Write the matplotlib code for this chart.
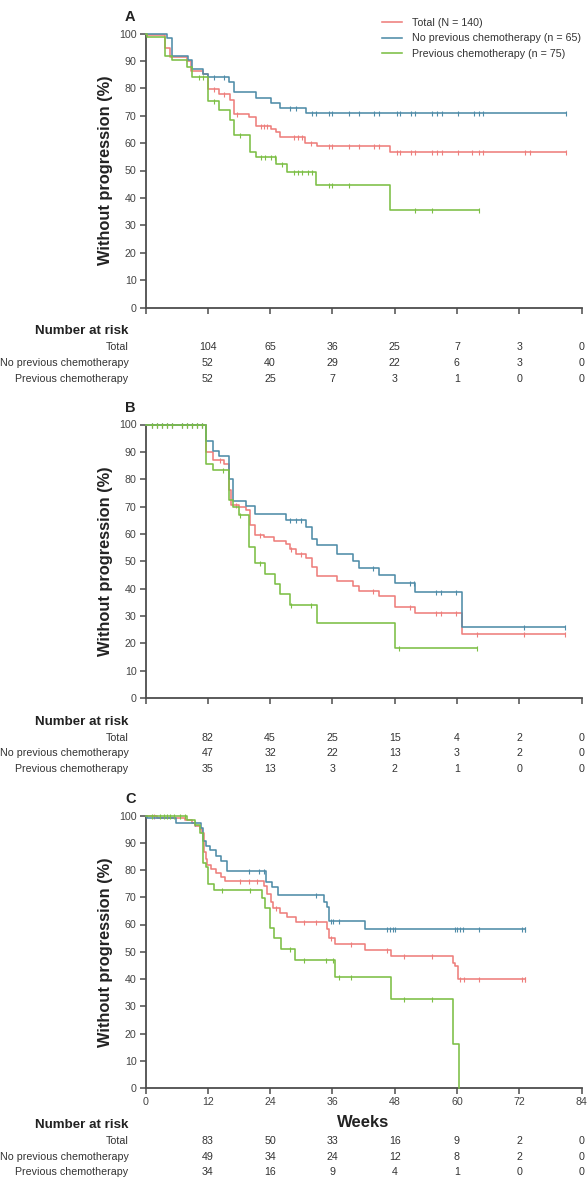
import matplotlib
matplotlib.use("Agg")
import matplotlib.pyplot as plt
import numpy as np

plt.rcParams['font.family'] = ['Liberation Sans', 'DejaVu Sans']

# ---- data (weeks, % without progression) ----
groups = ["Total", "No previous chemotherapy", "Previous chemotherapy"]
legend_labels = ["Total (N = 140)", "No previous chemotherapy (n = 65)",
                 "Previous chemotherapy (n = 75)"]
risk_weeks = [12, 24, 36, 48, 60, 72, 84]

# panel A
a_total_t = [0.3, 3.85, 4.8, 8.0, 8.8, 11.1, 12.0, 14.1, 16.2, 17.0, 19.9, 21.2, 24.2, 25.2, 26.0, 30.8, 33.1, 47.1]
a_total_s = [99.3, 94.7, 91.4, 90.0, 86.3, 85.1, 79.8, 78.0, 75.9, 70.6, 69.4, 66.1, 65.1, 63.9, 62.3, 60.2, 59.0, 56.8]
a_total_c = [13.2, 15.2, 17.7, 22.2, 22.8, 23.4, 28.6, 29.4, 30.2, 31.9, 35.3, 35.9, 39.2, 41.1, 44.1, 45.0,
             48.4, 49.1, 51.2, 52.0, 55.2, 56.2, 57.2, 60.2, 63.0, 64.2, 65.1, 73.1, 74.1, 81.1]
a_nochemo_t = [4.2, 5.1, 8.2, 9.0, 11.1, 12.0, 16.1, 17.0, 21.2, 24.2, 26.0, 31.0]
a_nochemo_s = [98.2, 91.7, 90.5, 87.1, 85.3, 84.1, 82.3, 78.8, 76.4, 74.7, 72.8, 70.9]
a_nochemo_c = [13.2, 15.2, 27.9, 29.0, 32.1, 32.9, 35.3, 35.9, 39.2, 41.1, 44.1, 45.0, 48.4, 49.1, 51.2, 52.0,
               55.2, 56.2, 57.2, 60.2, 63.3, 64.2, 65.1, 81.1]
a_chemo_t = [0.3, 3.85, 5.1, 8.0, 9.0, 12.0, 14.1, 16.2, 17.0, 20.1, 21.2, 25.2, 27.3, 32.9, 47.1]
a_chemo_s = [98.8, 91.7, 90.2, 87.8, 84.3, 75.5, 72.1, 68.4, 62.9, 56.9, 55.1, 52.3, 49.4, 44.7, 35.5]
a_chemo_c = [10.3, 11.1, 13.2, 18.3, 22.2, 23.1, 24.1, 25.0, 26.3, 28.6, 29.4, 30.2, 31.3, 32.1, 35.3, 35.9,
             39.2, 52.0, 55.2, 64.2]
a_risk_total = [104, 65, 36, 25, 7, 3, 0]
a_risk_nochemo = [52, 40, 29, 22, 6, 3, 0]
a_risk_chemo = [52, 25, 7, 3, 1, 0, 0]

# panel B
b_early_c = [1.3, 2.2, 3.2, 4.2, 5.1, 7.1, 8.0, 9.0, 10.0, 10.9]
b_total_t = [11.75, 13.0, 15.1, 16.1, 16.5, 18.0, 19.3, 20.1, 21.1, 22.8, 24.7, 27.0, 27.9, 28.9, 31.0, 32.1,
             33.1, 36.9, 40.0, 41.1, 45.0, 48.0, 52.0, 60.9]
b_total_s = [89.9, 86.9, 85.4, 76.1, 70.6, 69.7, 68.7, 63.2, 59.6, 58.7, 57.4, 56.2, 54.4, 52.8, 51.3, 48.0,
             44.5, 42.7, 40.9, 39.0, 37.2, 33.1, 31.0, 23.3]
b_total_c = b_early_c + [14.3, 17.5, 22.0, 28.0, 29.9, 43.9, 50.9, 56.0, 57.0, 59.9, 63.9, 72.9, 80.8]
b_nochemo_t = [11.75, 13.0, 14.1, 16.1, 16.8, 19.3, 21.1, 27.0, 31.0, 32.1, 33.1, 36.9, 40.0, 41.1, 45.0,
               48.0, 52.0, 60.9]
b_nochemo_s = [93.9, 90.3, 88.3, 79.9, 71.9, 70.3, 67.2, 65.2, 62.6, 58.0, 55.9, 52.8, 50.1, 47.6, 44.9,
               42.1, 38.8, 26.1]
b_nochemo_c = b_early_c + [27.9, 29.0, 30.0, 43.9, 50.9, 51.8, 56.0, 57.0, 59.9, 72.9, 80.8]
b_chemo_t = [11.75, 13.0, 16.1, 16.8, 18.0, 19.9, 21.1, 23.1, 25.0, 26.0, 27.9, 33.0, 48.0]
b_chemo_s = [85.6, 83.4, 72.4, 69.7, 66.9, 55.3, 49.4, 45.5, 41.8, 38.0, 33.9, 27.4, 18.2]
b_chemo_c = b_early_c + [15.0, 18.3, 22.0, 28.1, 31.9, 48.9, 63.9]
b_risk_total = [82, 45, 25, 15, 4, 2, 0]
b_risk_nochemo = [47, 32, 22, 13, 3, 2, 0]
b_risk_chemo = [35, 13, 3, 2, 1, 0, 0]

# panel C
c_total_t = [2.2, 7.7, 9.0, 9.6, 10.5, 10.9, 11.2, 11.6, 11.9, 12.7, 13.5, 14.5, 15.4, 22.8, 23.4, 24.1,
             24.6, 26.0, 27.3, 28.9, 34.9, 35.4, 36.5, 42.2, 47.3, 59.2, 59.7, 60.2]
c_total_s = [99.0, 98.4, 97.2, 96.2, 94.9, 93.4, 86.6, 84.2, 81.9, 80.4, 78.8, 77.6, 76.1, 74.3, 71.2, 68.1,
             66.2, 64.4, 62.9, 60.9, 58.2, 55.1, 53.0, 50.7, 48.3, 45.8, 44.9, 40.0]
c_total_c = [1.6, 18.3, 19.9, 21.5, 25.2, 30.6, 32.8, 35.8, 39.5, 46.6, 49.8, 55.2, 60.6, 61.3, 64.2, 72.6,
             73.1, 73.2]
c_nochemo_t = [0.3, 5.8, 10.6, 11.1, 11.75, 12.5, 13.5, 14.5, 15.7, 23.25, 24.4, 25.5, 34.4, 34.9, 35.4, 42.2]
c_nochemo_s = [98.9, 97.3, 95.5, 90.6, 88.7, 87.3, 85.0, 83.3, 79.8, 75.5, 73.6, 70.9, 68.4, 66.5, 61.3, 58.4]
c_nochemo_c = [9.6, 19.9, 21.8, 22.8, 32.8, 35.8, 36.2, 37.2, 46.6, 47.1, 47.6, 48.1, 59.6, 60.0, 60.6,
               61.2, 64.2, 72.6, 73.1, 73.2]
c_chemo_t = [8.0, 9.6, 10.5, 11.1, 11.6, 12.0, 13.2, 22.5, 23.1, 24.0, 24.7, 26.1, 28.8, 36.6, 47.3, 59.2, 60.4]
c_chemo_s = [98.4, 96.5, 93.7, 82.5, 81.1, 74.9, 72.8, 69.9, 66.2, 58.8, 55.1, 51.0, 46.8, 40.8, 32.5, 16.1, 0.0]
c_chemo_c = [1.3, 2.8, 3.5, 4.2, 4.8, 5.5, 6.7, 7.7, 14.8, 20.1, 27.8, 30.6, 34.7, 36.2, 37.2, 39.5, 49.8, 55.2]
c_risk_total = [83, 50, 33, 16, 9, 2, 0]
c_risk_nochemo = [49, 34, 24, 12, 8, 2, 0]
c_risk_chemo = [34, 16, 9, 4, 1, 0, 0]

colors = ['#EE7E7C', '#4F8CA8', '#7CBF45']
panels = [
    ("A", [(a_total_t, a_total_s, a_total_c), (a_nochemo_t, a_nochemo_s, a_nochemo_c),
           (a_chemo_t, a_chemo_s, a_chemo_c)], [a_risk_total, a_risk_nochemo, a_risk_chemo]),
    ("B", [(b_total_t, b_total_s, b_total_c), (b_nochemo_t, b_nochemo_s, b_nochemo_c),
           (b_chemo_t, b_chemo_s, b_chemo_c)], [b_risk_total, b_risk_nochemo, b_risk_chemo]),
    ("C", [(c_total_t, c_total_s, c_total_c), (c_nochemo_t, c_nochemo_s, c_nochemo_c),
           (c_chemo_t, c_chemo_s, c_chemo_c)], [c_risk_total, c_risk_nochemo, c_risk_chemo]),
]

W, H = 588, 1179
fig = plt.figure(figsize=(W / 100, H / 100), dpi=100)

# axes boxes in pixels: (top of y=100, y=0)
boxes = [(33.5, 307.5), (424.5, 698), (815.5, 1088)]
x0_px, x1_px = 145.5, 581.5
grey = '#4d4d4d'
txt = '#333333'
pt = 0.72  # points per pixel at 100 dpi

for (letter, curves, risks), (top, bot) in zip(panels, boxes):
    ax = fig.add_axes([x0_px / W, 1 - bot / H, (x1_px - x0_px) / W, (bot - top) / H])
    order = [2, 0, 1]
    for i in order:
        t, s, c = curves[i]
        end = max(max(c), t[-1])
        tt = np.r_[0, t, end]
        ss = np.r_[100, s, s[-1]]
        ax.step(tt, ss, where='post', color=colors[i], lw=1.15, clip_on=False,
                label=legend_labels[i], zorder=3 + i)
        cy = np.r_[100, s][np.searchsorted(t, c, side='right')]
        ax.plot(c, cy, ls='none', marker='|', ms=3.6, mew=0.8, color=colors[i],
                clip_on=False, zorder=3 + i)

    ax.set_xlim(0, 84)
    ax.set_ylim(0, 100)
    ax.set_xticks(np.arange(0, 85, 12))
    ax.set_yticks(np.arange(0, 101, 10))
    for sp in ['top', 'right']:
        ax.spines[sp].set_visible(False)
    for sp in ['left', 'bottom']:
        ax.spines[sp].set_color(grey)
        ax.spines[sp].set_linewidth(1.3)
    ax.tick_params(colors=grey, width=1.1, length=4.5, labelsize=7.7, labelcolor='#444444', pad=2)
    ax.set_ylabel("Without progression (%)", fontsize=11.8, fontweight='bold', color='#222222')
    ax.yaxis.set_label_coords(-0.075, 0.5)
    ax.text(-0.035, 1.06, letter, transform=ax.transAxes, fontsize=10.5, fontweight='bold',
            ha='center', va='center', color='#222222')

    if letter == "C":
        ax.set_xlabel("Weeks", fontsize=12, fontweight='bold', color='#222222', labelpad=6)
        head, rows = 37, [53, 69, 84]
    else:
        ax.set_xticklabels([])
        head, rows = 24, [40, 55, 71]

    ax.annotate("Number at risk", xy=(0, 0), xycoords=('data', 'axes fraction'),
                xytext=(-17 * pt, -head * pt), textcoords='offset points',
                ha='right', va='center', fontsize=9.6, fontweight='bold', color='#222222',
                annotation_clip=False)
    for g, vals, dy in zip(groups, risks, rows):
        ax.annotate(g, xy=(0, 0), xycoords=('data', 'axes fraction'),
                    xytext=(-17 * pt, -dy * pt), textcoords='offset points',
                    ha='right', va='center', fontsize=7.7, color=txt, annotation_clip=False)
        for wk, v in zip(risk_weeks, vals):
            ax.annotate(str(v), xy=(wk, 0), xycoords=('data', 'axes fraction'),
                        xytext=(0, -dy * pt), textcoords='offset points',
                        ha='center', va='center', fontsize=7.7, color=txt, annotation_clip=False)

    if letter == "A":
        h, l = ax.get_legend_handles_labels()
        idx = [l.index(x) for x in legend_labels]
        ax.legend([h[k] for k in idx], [l[k] for k in idx], loc='upper left',
                  bbox_to_anchor=(382 / W, 1 - 18 / H), bbox_transform=fig.transFigure,
                  frameon=False, fontsize=7.7, handlelength=1.9, handletextpad=0.9,
                  labelspacing=0.5, borderpad=0, borderaxespad=0, labelcolor='#333333')

fig.savefig("out.png", dpi=100)
